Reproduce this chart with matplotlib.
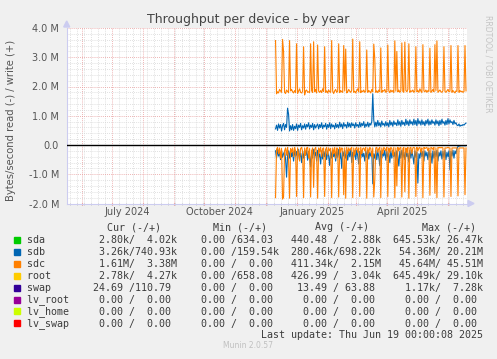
import datetime as dt
import numpy as np
import matplotlib
matplotlib.use("Agg")
import matplotlib.pyplot as plt
import matplotlib.dates as mdates
from matplotlib.patches import Rectangle, Polygon

# daily values in MB/s, starting 2024-12-11
sdc_write = [
    3.57, 1.75, 1.82, 1.78, 1.90, 1.85, 1.80, 3.61, 3.20, 1.80,
    1.76, 1.88, 1.83, 1.79, 3.57, 1.85, 1.90, 1.82, 1.78, 1.86,
    1.80, 3.46, 1.76, 1.84, 1.92, 1.80, 1.78, 1.83, 3.36, 1.71,
    1.85, 1.88, 1.80, 1.82, 1.79, 3.46, 1.85, 1.80, 3.53, 1.82,
    1.90, 1.78, 3.42, 1.84, 1.80, 1.86, 1.79, 1.92, 1.83, 3.36,
    1.80, 1.85, 1.78, 1.88, 1.82, 1.80, 3.57, 1.84, 1.76, 1.85,
    1.90, 1.80, 1.83, 3.46, 1.79, 1.86, 1.82, 1.80, 3.40, 1.85,
    3.28, 1.78, 1.82, 1.90, 1.84, 1.80, 1.87, 3.62, 1.80, 1.84,
    1.78, 1.86, 1.92, 1.81, 3.53, 1.79, 1.85, 1.82, 1.88, 1.80,
    1.84, 3.25, 1.80, 1.86, 1.83, 1.78, 1.90, 1.82, 3.45, 2.95,
    1.80, 1.85, 1.79, 1.88, 1.82, 3.32, 1.80, 1.86, 1.84, 1.90,
    1.80, 1.83, 3.42, 1.85, 1.79, 1.88, 1.82, 1.86, 1.80, 3.56,
    1.84, 3.20, 1.82, 1.88, 1.80, 1.85, 3.49, 1.83, 1.80, 3.52,
    1.86, 1.82, 1.90, 3.46, 1.80, 1.85, 1.83, 1.88, 1.80, 1.84,
    3.36, 1.82, 1.86, 1.80, 1.92, 1.84, 1.80, 3.43, 1.85, 1.82,
    1.88, 1.80, 1.86, 1.83, 3.31, 1.80, 1.84, 1.90, 1.82, 3.43,
    1.86, 3.56, 1.80, 1.84, 1.88, 1.82, 1.80, 1.86, 3.36, 1.83,
    1.80, 1.85, 1.90, 1.82, 1.84, 3.40, 1.80, 1.86, 1.82, 1.78,
    1.85, 1.83, 3.40, 1.80, 1.86, 1.82, 1.84, 1.80, 1.83, 3.40,
    1.85,
]
sdc_read = [
    1.80, 0.15, 0.08, 0.30, 0.10, 0.45, 0.12, 1.85, 1.78, 0.20,
    0.10, 0.35, 0.08, 0.50, 1.82, 0.12, 0.25, 0.10, 0.40, 0.08,
    0.20, 1.76, 0.10, 0.30, 0.55, 0.12, 0.08, 0.22, 1.80, 0.10,
    0.35, 0.10, 0.08, 0.45, 0.12, 1.78, 0.20, 0.10, 1.45, 0.15,
    0.08, 0.30, 1.82, 0.10, 0.25, 0.08, 0.40, 0.12, 0.10, 1.76,
    0.15, 0.08, 0.35, 0.10, 0.20, 0.12, 1.80, 0.10, 0.30, 0.08,
    0.45, 0.10, 0.12, 1.78, 0.08, 0.25, 0.10, 0.12, 1.70, 0.10,
    1.82, 0.08, 0.30, 0.10, 0.20, 0.12, 0.08, 1.80, 0.10, 0.35,
    0.12, 0.08, 0.25, 0.10, 1.76, 0.08, 0.30, 0.12, 0.10, 0.20,
    0.08, 1.82, 0.10, 0.28, 0.08, 0.12, 0.40, 0.10, 1.78, 1.20,
    0.10, 0.08, 0.25, 0.12, 0.08, 1.80, 0.10, 0.30, 0.08, 0.12,
    0.20, 0.08, 1.76, 0.10, 0.25, 0.08, 0.12, 0.35, 0.08, 1.80,
    0.10, 1.40, 0.08, 0.20, 0.10, 0.08, 1.78, 0.12, 0.08, 1.60,
    0.10, 0.25, 0.08, 1.82, 0.10, 0.08, 0.30, 0.10, 0.08, 0.12,
    1.76, 0.08, 0.20, 0.10, 0.08, 0.25, 0.10, 1.80, 0.08, 0.12,
    0.10, 0.08, 0.20, 0.10, 1.72, 0.08, 0.10, 0.15, 0.08, 1.65,
    0.10, 1.80, 0.08, 0.10, 0.08, 0.10, 0.08, 0.10, 1.78, 0.10,
    0.10, 0.10, 0.08, 0.10, 0.10, 1.76, 0.10, 0.10, 0.10, 0.10,
    0.10, 0.10, 1.74, 0.10, 0.10, 0.10, 0.10, 0.10, 0.10, 1.70,
    0.10,
]
sdb_write = [
    0.55, 0.68, 0.50, 0.72, 0.58, 0.70, 0.48, 0.66, 0.74, 0.52,
    0.70, 0.60, 1.26, 1.05, 0.48, 0.66, 0.52, 0.70, 0.50, 0.64,
    0.56, 0.72, 0.50, 0.68, 0.60, 0.74, 0.52, 0.66, 0.58, 0.72,
    0.54, 0.70, 0.62, 0.76, 0.55, 0.68, 0.60, 0.74, 0.52, 0.70,
    0.58, 0.66, 0.72, 0.55, 0.70, 0.60, 0.76, 0.56, 0.68, 0.62,
    0.74, 0.54, 0.70, 0.60, 0.76, 0.56, 0.72, 0.62, 0.68, 0.55,
    0.74, 0.60, 0.70, 0.58, 0.78, 0.62, 0.72, 0.56, 0.76, 0.64,
    0.70, 0.58, 0.78, 0.62, 0.74, 0.60, 0.76, 0.66, 0.72, 0.58,
    0.76, 0.64, 0.70, 0.60, 0.78, 0.62, 0.74, 0.66, 0.80, 0.60,
    0.72, 0.64, 0.78, 0.62, 0.74, 0.68, 0.80, 1.75, 0.85, 0.62,
    0.78, 0.64, 0.84, 0.66, 0.76, 0.62, 0.82, 0.68, 0.74, 0.64,
    0.80, 0.66, 0.76, 0.62, 0.84, 0.68, 0.78, 0.64, 0.82, 0.70,
    0.76, 0.66, 0.86, 0.68, 0.80, 0.64, 0.84, 0.70, 0.78, 0.66,
    0.88, 0.70, 0.82, 0.66, 0.86, 0.72, 0.80, 0.68, 0.88, 0.70,
    0.84, 0.66, 0.90, 0.72, 0.82, 0.68, 0.86, 0.70, 0.80, 0.66,
    0.84, 0.72, 0.88, 0.68, 0.82, 0.70, 0.86, 0.74, 0.80, 0.68,
    0.86, 0.72, 0.82, 0.66, 0.84, 0.70, 0.88, 0.74, 0.80, 0.68,
    0.84, 0.70, 0.90, 0.72, 0.86, 0.76, 0.80, 0.70, 0.84, 0.72,
    0.76, 0.68, 0.66, 0.72, 0.64, 0.68, 0.66, 0.70, 0.68, 0.72,
    0.75,
]
sdb_read = [
    0.20, 0.45, 0.15, 0.38, 0.25, 0.50, 0.18, 0.42, 0.30, 0.22,
    0.48, 1.10, 0.35, 0.20, 0.45, 0.15, 0.40, 0.25, 0.55, 0.18,
    0.38, 0.22, 0.50, 0.15, 0.42, 0.28, 0.60, 0.20, 0.45, 0.25,
    0.35, 0.18, 0.52, 0.22, 0.40, 0.75, 0.20, 0.45, 0.15, 0.38,
    0.25, 0.55, 0.18, 0.42, 0.30, 0.65, 0.20, 0.48, 0.22, 0.40,
    0.15, 0.50, 0.25, 0.38, 0.70, 0.20, 0.45, 0.18, 0.40, 0.28,
    0.55, 0.20, 0.42, 0.15, 0.48, 0.25, 0.80, 0.22, 0.38, 0.18,
    0.45, 0.28, 0.52, 0.20, 0.40, 0.15, 0.60, 0.25, 0.42, 0.20,
    0.50, 0.18, 0.38, 0.65, 0.22, 0.45, 0.20, 0.40, 0.28, 0.55,
    0.20, 0.42, 0.18, 0.48, 0.25, 0.38, 0.22, 1.33, 0.30, 0.45,
    0.18, 0.50, 0.22, 0.40, 0.70, 0.20, 0.45, 0.25, 0.38, 0.18,
    0.52, 0.22, 0.42, 0.28, 0.60, 0.20, 0.45, 0.18, 0.40, 0.25,
    0.55, 0.20, 0.38, 0.72, 0.22, 0.45, 0.18, 0.42, 0.25, 0.50,
    0.20, 0.40, 0.28, 0.58, 0.18, 0.45, 0.22, 0.38, 0.65, 0.20,
    0.42, 0.25, 1.30, 0.30, 0.45, 0.18, 0.40, 0.22, 0.55, 0.20,
    0.38, 0.25, 0.50, 0.18, 0.42, 0.28, 0.62, 0.20, 0.45, 0.22,
    0.40, 0.18, 0.55, 0.25, 0.38, 0.20, 0.48, 0.22, 0.42, 0.18,
    0.50, 0.25, 0.40, 0.20, 0.85, 0.22, 0.38, 0.18, 0.45, 0.20,
    0.30, 0.12, 0.05, 0.04, 0.03, 0.03, 0.02, 0.03, 0.02, 0.03,
    0.02,
]

names = ["sda", "sdb", "sdc", "root", "swap", "lv_root", "lv_home", "lv_swap"]
colors = ["#00CC00", "#0066B3", "#FF8000", "#FFCC00", "#330099", "#990099", "#CCFF00", "#FF0000"]
cur = [("2.80k", "4.02k"), ("3.26k", "740.93k"), ("1.61M", "3.38M"), ("2.78k", "4.27k"),
       ("24.69", "110.79"), ("0.00", "0.00"), ("0.00", "0.00"), ("0.00", "0.00")]
mins = [("0.00", "634.03"), ("0.00", "159.54k"), ("0.00", "0.00"), ("0.00", "658.08"),
        ("0.00", "0.00"), ("0.00", "0.00"), ("0.00", "0.00"), ("0.00", "0.00")]
avgs = [("440.48", "2.88k"), ("280.46k", "698.22k"), ("411.34k", "2.15M"), ("426.99", "3.04k"),
        ("13.49", "63.88"), ("0.00", "0.00"), ("0.00", "0.00"), ("0.00", "0.00")]
maxs = [("645.53k", "26.47k"), ("54.36M", "20.21M"), ("45.64M", "45.51M"), ("645.49k", "29.10k"),
        ("1.17k", "7.28k"), ("0.00", "0.00"), ("0.00", "0.00"), ("0.00", "0.00")]

W, H = 497, 359
fig = plt.figure(figsize=(W / 100, H / 100), dpi=100, facecolor="#F0F0F0")


def fx(x):
    return x / W


def fy(y):
    return 1 - y / H


L, R, T, B = 66.7, 467, 28, 203.5
ax = fig.add_axes([fx(L), fy(B), fx(R) - fx(L), fy(T) - fy(B)])
ax.set_facecolor("white")

start = dt.datetime(2024, 12, 11)
days = [start + dt.timedelta(days=i) for i in range(len(sdc_write))]

ax.plot(days, np.array(sdb_write) * 1e6, color="#0066B3", lw=0.8, zorder=3)
ax.plot(days, -np.array(sdb_read) * 1e6, color="#0066B3", lw=0.8, zorder=3)
ax.plot(days, np.array(sdc_write) * 1e6, color="#FF8000", lw=0.8, zorder=4)
ax.plot(days, -np.array(sdc_read) * 1e6, color="#FF8000", lw=0.8, zorder=4)
ax.axhline(0, color="black", lw=1.0, zorder=5)

ax.set_xlim(dt.datetime(2024, 5, 16, 16), dt.datetime(2025, 6, 20))
ax.set_ylim(-2e6, 4e6)

yt = [-2e6, -1e6, 0, 1e6, 2e6, 3e6, 4e6]
ax.set_yticks(yt)
ax.set_yticklabels(["-2.0 M", "-1.0 M", "0.0", "1.0 M", "2.0 M", "3.0 M", "4.0 M"])
ax.set_yticks(np.arange(-2e6, 4.01e6, 2e5), minor=True)
ax.xaxis.set_major_locator(mdates.MonthLocator())
ax.xaxis.set_minor_locator(mdates.WeekdayLocator(byweekday=mdates.MO))
ax.xaxis.set_major_formatter(plt.NullFormatter())

ax.grid(which="minor", color="#d6d6d6", lw=0.6, linestyle=(0, (1, 1.5)), zorder=1)
ax.grid(which="major", color="#e89a9a", lw=0.6, linestyle=(0, (1, 1.5)), zorder=2)
ax.set_axisbelow(True)

ax.tick_params(axis="y", which="both", length=0, pad=5.5, labelsize=7, labelcolor="#555555")
ax.tick_params(axis="x", which="major", length=2, color="#e07070", direction="inout")
ax.tick_params(axis="x", which="minor", length=2, color="#bbbbbb", direction="inout")

for s in ["top", "right"]:
    ax.spines[s].set_visible(False)
for s in ["left", "bottom"]:
    ax.spines[s].set_color("#ccccf0")
    ax.spines[s].set_linewidth(0.8)

# month labels centred in their month
for d, lab in [(dt.datetime(2024, 7, 16), "July 2024"), (dt.datetime(2024, 10, 16), "October 2024"),
               (dt.datetime(2025, 1, 16), "January 2025"), (dt.datetime(2025, 4, 16), "April 2025")]:
    ax.text(d, -0.05, lab, transform=ax.get_xaxis_transform(), ha="center", va="center",
            fontsize=7, color="#555555")

# axis arrows
fig.add_artist(Polygon([[fx(L - 3), fy(T - 1)], [fx(L + 3), fy(T - 1)], [fx(L), fy(T - 7)]],
                       closed=True, transform=fig.transFigure, color="#ccccf0"))
fig.add_artist(Polygon([[fx(R + 1), fy(B - 3)], [fx(R + 1), fy(B + 3)], [fx(R + 7), fy(B)]],
                       closed=True, transform=fig.transFigure, color="#ccccf0"))

fig.text(fx(248.3), fy(19), "Throughput per device - by year", ha="center", va="center",
         fontsize=9, color="#444444")
fig.text(fx(11), fy(120), "Bytes/second read (-) / write (+)", rotation=90, ha="center",
         va="center", fontsize=7.2, color="#555555")
fig.text(fx(488), fy(15), "RRDTOOL / TOBI OETIKER", rotation=270, ha="center", va="top",
         fontsize=5.5, color="#c4c4c4")


def fmt(s):
    if s[-1] in "kM":
        return f"{s[:-1]:>6}{s[-1]}"
    return f"{s:>6} "


def cell(pair):
    return fmt(pair[0]) + "/" + fmt(pair[1])


mono = "DejaVu Sans Mono"
txtc = "#3c3c3c"
for x, h in [(107, "Cur (-/+)"), (213, "Min (-/+)"), (315, "Avg (-/+)"), (422, "Max (-/+)")]:
    fig.text(fx(x), fy(227.3), h, ha="left", va="center", family=mono, fontsize=7.2, color=txtc)

for i, name in enumerate(names):
    y = 240 + i * 11.9
    row = f"{name:<10}" + "  ".join([cell(cur[i]), cell(mins[i]), cell(avgs[i]), cell(maxs[i])])
    fig.text(fx(27), fy(y), row, ha="left", va="center", family=mono, fontsize=7.2, color=txtc)
    fig.add_artist(Rectangle((fx(14), fy(y + 3)), 6 / W, 6 / H, transform=fig.transFigure,
                             color=colors[i]))

fig.text(fx(483), fy(335.3), "Last update: Thu Jun 19 00:00:08 2025", ha="right", va="center",
         family=mono, fontsize=7.2, color=txtc)
fig.text(fx(248), fy(346), "Munin 2.0.57", ha="center", va="center", fontsize=5.5, color="#c0c0c0")

fig.savefig("out.png", dpi=100, facecolor=fig.get_facecolor())
